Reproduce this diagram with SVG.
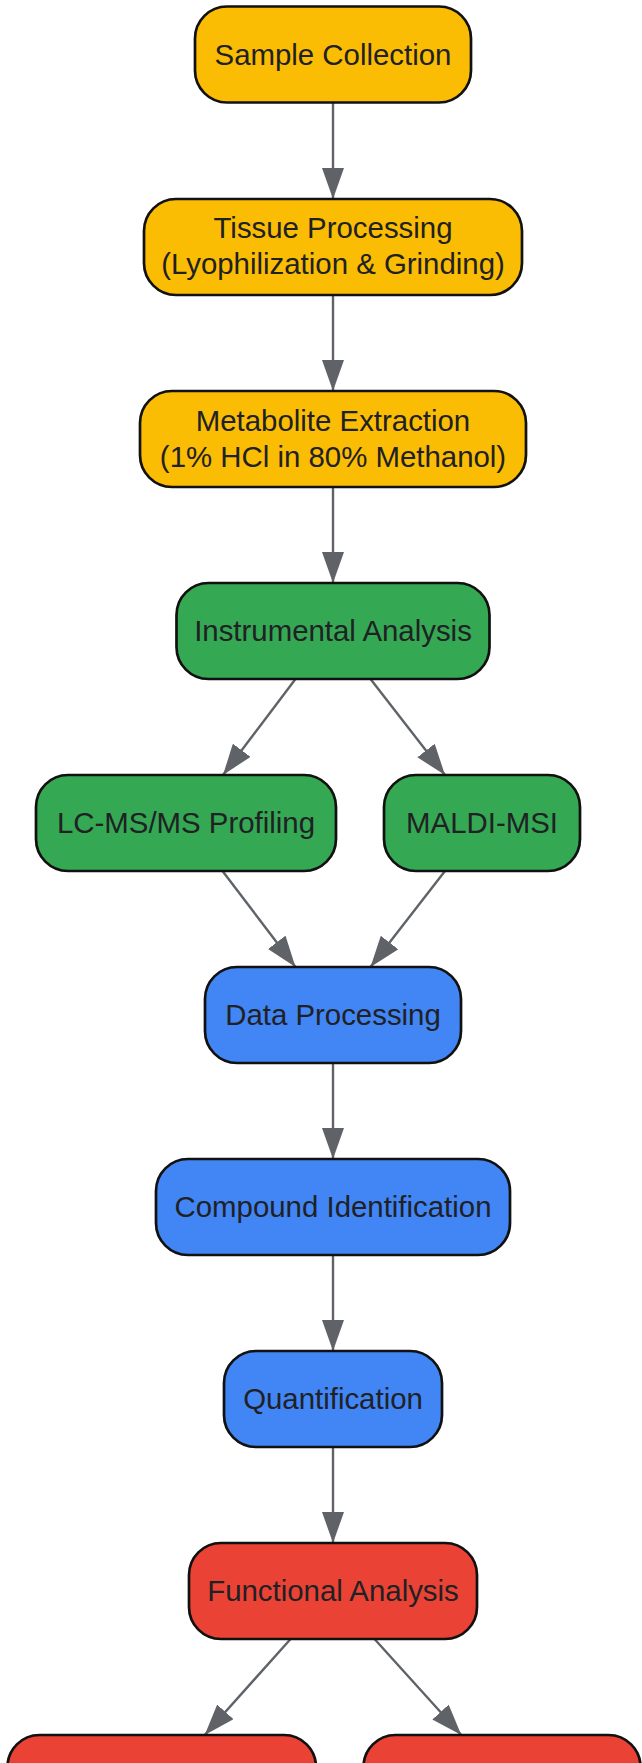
<svg xmlns="http://www.w3.org/2000/svg" width="642" height="1763" viewBox="0 0 642 1763">
<defs>
<style>
.n rect{stroke:#111;stroke-width:2.7}
.y rect{fill:#FBBC04}
.g rect{fill:#34A853}
.b rect{fill:#4285F4}
.r rect{fill:#EA4335}
text{font-family:"Liberation Sans",Arial,sans-serif;font-size:29.4px;fill:#202124;text-anchor:middle}
.e line{stroke:#5f6368;stroke-width:2.4;marker-end:url(#ah)}
</style>
<marker id="ah" markerUnits="userSpaceOnUse" markerWidth="31" markerHeight="22" refX="31" refY="11" orient="auto">
<path d="M0,0 L31,11 L0,22 z" fill="#5f6368"/>
</marker>
</defs>
<rect width="642" height="1763" fill="#fff"/>
<g id="edges" class="e">
<line x1="333" y1="102.5" x2="333" y2="199"/>
<line x1="333" y1="295" x2="333" y2="391"/>
<line x1="333" y1="487" x2="333" y2="583"/>
<line x1="295.5" y1="679" x2="223" y2="775"/>
<line x1="370.5" y1="679" x2="445" y2="775"/>
<line x1="222.5" y1="871" x2="295.5" y2="967"/>
<line x1="445" y1="871" x2="370.5" y2="967"/>
<line x1="333" y1="1063" x2="333" y2="1159"/>
<line x1="333" y1="1255" x2="333" y2="1351"/>
<line x1="333" y1="1447" x2="333" y2="1543"/>
<line x1="290.6" y1="1639" x2="204.7" y2="1735"/>
<line x1="374.5" y1="1639" x2="461.3" y2="1735"/>
</g>
<g id="sample" class="n y"><rect x="195" y="6.5" width="276" height="96" rx="32"/><text x="333" y="64.5">Sample Collection</text></g>
<g id="tissue" class="n y"><rect x="144" y="199" width="378" height="96" rx="32"/><text x="333" y="238">Tissue Processing</text><text x="333" y="274">(Lyophilization &amp; Grinding)</text></g>
<g id="extraction" class="n y"><rect x="140" y="391" width="386" height="96" rx="32"/><text x="333" y="430.5">Metabolite Extraction</text><text x="333" y="466.5">(1% HCl in 80% Methanol)</text></g>
<g id="instrumental" class="n g"><rect x="176.5" y="583" width="313" height="96" rx="32"/><text x="333" y="641">Instrumental Analysis</text></g>
<g id="lcms" class="n g"><rect x="36" y="775" width="300" height="96" rx="32"/><text x="186" y="833">LC-MS/MS Profiling</text></g>
<g id="maldi" class="n g"><rect x="384" y="775" width="196" height="96" rx="32"/><text x="482" y="833">MALDI-MSI</text></g>
<g id="data" class="n b"><rect x="205" y="967" width="256" height="96" rx="32"/><text x="333" y="1025">Data Processing</text></g>
<g id="compound" class="n b"><rect x="156" y="1159" width="354" height="96" rx="32"/><text x="333" y="1217">Compound Identification</text></g>
<g id="quant" class="n b"><rect x="224" y="1351" width="218" height="96" rx="32"/><text x="333" y="1409">Quantification</text></g>
<g id="functional" class="n r"><rect x="189" y="1543" width="288" height="96" rx="32"/><text x="333" y="1601">Functional Analysis</text></g>
<g id="out-left" class="n r"><rect x="7.5" y="1735" width="308.5" height="96" rx="32"/></g>
<g id="out-right" class="n r"><rect x="363.5" y="1735" width="277" height="96" rx="32"/></g>
</svg>
